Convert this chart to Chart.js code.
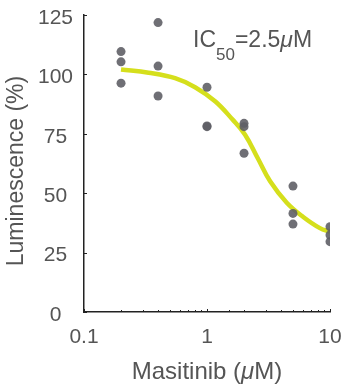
<!DOCTYPE html>
<html>
<head>
<meta charset="utf-8">
<script src="https://cdn.jsdelivr.net/npm/chart.js@4"></script>
<style>
  html, body { margin: 0; padding: 0; background: #fff; }
  #wrap { width: 347px; height: 384px; }
</style>
</head>
<body>
<div id="wrap"><canvas id="chart1"></canvas></div>
<script>
'use strict'

// replicate measurements (uM, % luminescence)
var doseX = [0.2, 0.2, 0.2, 0.4, 0.4, 0.4, 1, 1, 1, 2, 2, 2, 5, 5, 5, 10, 10, 10];
var lumY = [109.6, 105.3, 96.3, 121.8, 103.5, 90.9, 94.6, 78, 78.3, 79.4, 78, 66.8, 53, 41.5, 37, 35.9, 32.4, 29.6];

// fitted curve
var fitX = [0.2, 0.335, 0.55, 0.8, 1.17, 1.6, 2.04, 2.6, 3.26, 4.45, 6.06, 8.28, 10];
var fitY = [102.1, 100.7, 98.4, 94.6, 88.6, 81.2, 74.6, 64.5, 55, 46, 40, 35.3, 33.8];

var xMajor = [0.1, 1, 10];
var yTicks = [0, 25, 50, 75, 100, 125];

var font = '"Liberation Sans", Arial, sans-serif';
var txtColor = '#555';

var pts = doseX.map(function(x, i) { return { x: x, y: lumY[i] }; });
var fit = fitX.map(function(x, i) { return { x: x, y: fitY[i] }; });

// inward ticks + titles + IC50 label
var extras = {
  id: 'extras',
  afterDraw: function(chart) {
    var ctx = chart.ctx;
    var xs = chart.scales.x, ys = chart.scales.y;
    var area = chart.chartArea;
    ctx.save();
    ctx.strokeStyle = '#222';
    ctx.lineWidth = 1;
    ctx.beginPath();
    yTicks.forEach(function(v) {
      var py = Math.round(ys.getPixelForValue(v)) + 0.5;
      ctx.moveTo(area.left, py);
      ctx.lineTo(area.left + 3, py);
    });
    xs.ticks.forEach(function(t) {
      var px = Math.round(xs.getPixelForValue(t.value)) + 0.5;
      var len = xMajor.indexOf(t.value) >= 0 ? 3 : 2;
      ctx.moveTo(px, area.bottom);
      ctx.lineTo(px, area.bottom - len);
    });
    ctx.stroke();

    ctx.fillStyle = txtColor;
    // y title
    ctx.save();
    ctx.translate(17, 171);
    ctx.rotate(-Math.PI / 2);
    ctx.font = '23px ' + font;
    ctx.textAlign = 'center';
    ctx.textBaseline = 'middle';
    ctx.fillText('Luminescence (%)', 0, 0);
    ctx.restore();

    // x title with italic mu
    var parts = [['Masitinib (', ''], ['\u03bc', 'italic '], ['M)', '']];
    ctx.textBaseline = 'middle';
    ctx.textAlign = 'left';
    var total = 0;
    parts.forEach(function(p) { ctx.font = p[1] + '24px ' + font; total += ctx.measureText(p[0]).width; });
    var cx = 207 - total / 2;
    parts.forEach(function(p) {
      ctx.font = p[1] + '24px ' + font;
      ctx.fillText(p[0], cx, 372);
      cx += ctx.measureText(p[0]).width;
    });

    // IC50 annotation
    var ax = 193, ay = 41;
    ctx.font = '23px ' + font;
    ctx.fillText('IC', ax, ay);
    ax += ctx.measureText('IC').width;
    ctx.font = '17px ' + font;
    ctx.fillText('50', ax, ay + 14);
    ax += ctx.measureText('50').width;
    ctx.font = '23px ' + font;
    ctx.fillText('=2.5', ax, ay);
    ax += ctx.measureText('=2.5').width;
    ctx.font = 'italic 23px ' + font;
    ctx.fillText('\u03bc', ax, ay);
    ax += ctx.measureText('\u03bc').width;
    ctx.font = '23px ' + font;
    ctx.fillText('M', ax, ay);
    ctx.restore();
  }
};

var chart1 = new Chart(document.getElementById('chart1').getContext('2d'), {
  data: {
    datasets: [
      {
        type: 'line',
        data: fit,
        borderColor: '#d5df1c',
        borderWidth: 4.5,
        pointRadius: 0,
        tension: 0.4,
        fill: false,
        order: 2
      },
      {
        type: 'scatter',
        data: pts,
        backgroundColor: 'rgba(95,95,102,0.9)',
        borderWidth: 0,
        pointRadius: 4.5,
        order: 1
      }
    ]
  },
  options: {
    responsive: true,
    maintainAspectRatio: false,
    animation: false,
    layout: { padding: { top: 15, right: 17, left: 0, bottom: 0 } },
    plugins: { legend: { display: false }, tooltip: { enabled: false } },
    scales: {
      x: {
        type: 'logarithmic',
        min: 0.1,
        max: 10,
        grid: { display: false, drawTicks: false },
        border: { display: true, color: '#222', width: 1.5 },
        ticks: {
          color: txtColor,
          font: { family: font, size: 21 },
          padding: 13,
          maxRotation: 0,
          autoSkip: false,
          callback: function(v) { return xMajor.indexOf(v) >= 0 ? String(v) : ''; }
        },
        afterFit: function(s) { s.height = 72; s.paddingLeft = 0; s.paddingRight = 0; }
      },
      y: {
        min: 0,
        max: 125,
        afterBuildTicks: function(s) { s.ticks = yTicks.map(function(v) { return { value: v }; }); },
        grid: { display: false, drawTicks: false },
        border: { display: true, color: '#222', width: 1.5 },
        ticks: {
          color: txtColor,
          font: { family: font, size: 21 },
          padding: 11,
          crossAlign: 'center',
          labelOffset: 3
        },
        afterFit: function(s) { s.width = 84; s.paddingTop = 0; s.paddingBottom = 0; }
      }
    }
  },
  plugins: [extras]
});
</script>
</body>
</html>
